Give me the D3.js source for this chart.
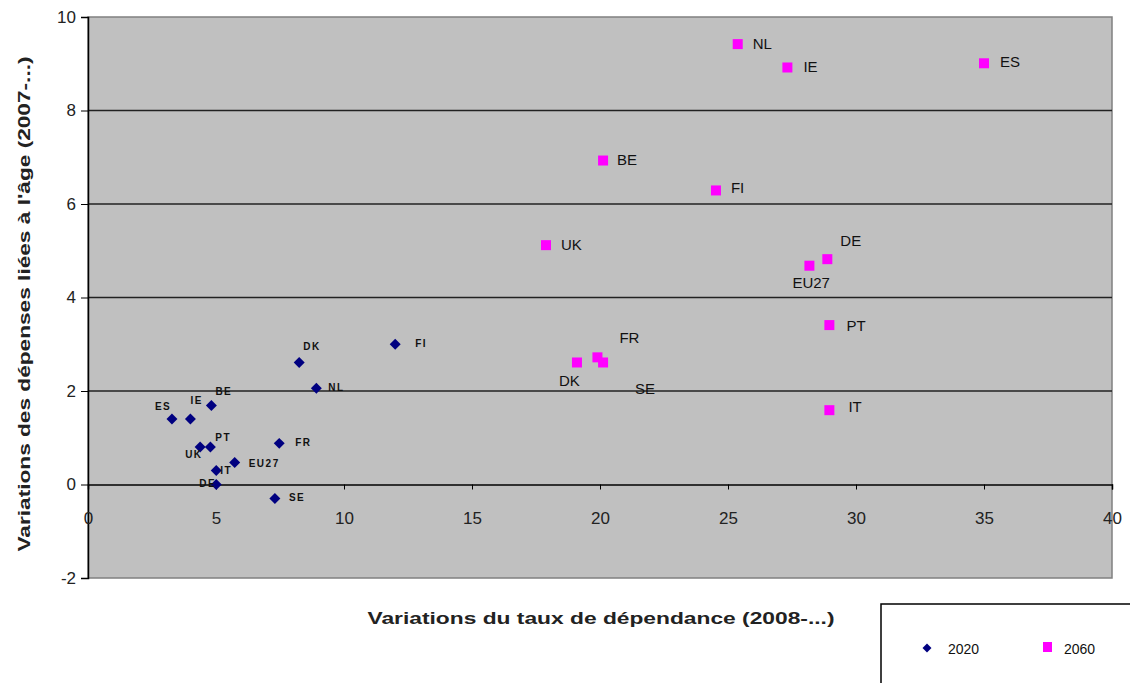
<!DOCTYPE html>
<html><head><meta charset="utf-8">
<script src="https://cdn.jsdelivr.net/npm/d3@7"></script>
<style>body{margin:0;background:#fff;} svg{display:block;font-family:"Liberation Sans",Arial,sans-serif;}</style>
</head><body><div id="chart"></div>
<script>
// Data
const countries2020 = ["ES","IE","BE","UK","PT","EU27","IT","DE","SE","FR","DK","NL","FI"];
const x2020 = [3.28, 4.0, 4.82, 4.38, 4.78, 5.73, 5.01, 5.01, 7.30, 7.47, 8.25, 8.92, 12.0];
const y2020 = [1.40, 1.40, 1.69, 0.80, 0.80, 0.47, 0.30, 0.0, -0.30, 0.88, 2.61, 2.06, 3.0];

const countries2060 = ["NL","IE","ES","BE","FI","UK","DE","EU27","PT","IT","DK","FR","SE"];
const x2060 = [25.38, 27.32, 35.0, 20.12, 24.53, 17.89, 28.88, 28.18, 28.96, 28.96, 19.10, 19.90, 20.12];
const y2060 = [9.42, 8.92, 9.01, 6.93, 6.29, 5.12, 4.82, 4.68, 3.41, 1.59, 2.61, 2.72, 2.61];

const xTicks = [0,5,10,15,20,25,30,35,40];
const yTicks = [-2,0,2,4,6,8,10];
const seriesNames = ["2020","2060"];
const xTitle = "Variations du taux de dépendance (2008-...)";
const yTitle = "Variations des dépenses liées à l'âge (2007-...)";

// Label offsets (style, px) for point labels
const off2020 = [[-17,-9],[0,-15],[4,-10],[-15,11],[5,-6],[14,4],[4,4],[-17,2],[14,2],[16,3],[4,-12],[12,3],[20,3]];
const off2060 = [[15,5],[16,5],[16,4],[14,4],[15,3],[15,5],[13,-13],[-17,22],[17,6],[19,2],[-18,24],[22,-14],[32,32]];

const W = 1130, H = 683;
const L = 88, R = 1112, T = 17, B = 578;
const svg = d3.select("#chart").append("svg").attr("width", W).attr("height", H);

const x = d3.scaleLinear().domain([0,40]).range([L, R]);
const y = d3.scaleLinear().domain([-2,10]).range([B, T]);

// plot background
svg.append("rect").attr("x", L).attr("y", T).attr("width", R - L).attr("height", B - T)
  .attr("fill", "#c0c0c0").attr("stroke", "#808080").attr("stroke-width", 1.5);

// gridlines
svg.append("g").selectAll("line").data(yTicks.filter(d => d > 0 && d < 10)).join("line")
  .attr("x1", L).attr("x2", R).attr("y1", d => y(d)).attr("y2", d => y(d))
  .attr("stroke", "#222").attr("stroke-width", 1.5);

// y axis
const yAxis = svg.append("g").attr("transform", `translate(${L},0)`)
  .call(d3.axisLeft(y).tickValues(yTicks).tickSize(7).tickPadding(5).tickFormat(d => String(d)));
yAxis.select(".domain").attr("stroke", "#000").attr("stroke-width", 1.5);
yAxis.selectAll("line").attr("stroke", "#000");
yAxis.selectAll("text").attr("font-size", 17).attr("fill", "#222").attr("font-family", "Liberation Sans, Arial");

// x axis at y=0
const xAxis = svg.append("g").attr("transform", `translate(0,${y(0)})`)
  .call(d3.axisBottom(x).tickValues(xTicks).tickSize(5).tickPadding(22).tickFormat(d => String(d)));
xAxis.select(".domain").attr("stroke", "#000").attr("stroke-width", 1.5);
xAxis.selectAll("line").attr("stroke", "#000");
xAxis.selectAll("text").attr("font-size", 17).attr("fill", "#222").attr("font-family", "Liberation Sans, Arial");

// titles
svg.append("text").attr("x", 601).attr("y", 624).attr("text-anchor", "middle")
  .attr("font-size", 17).attr("font-weight", "bold").attr("fill", "#222")
  .attr("textLength", 467).attr("lengthAdjust", "spacingAndGlyphs").text(xTitle);
svg.append("text").attr("transform", `translate(30,304) rotate(-90)`).attr("text-anchor", "middle")
  .attr("font-size", 17).attr("font-weight", "bold").attr("fill", "#222")
  .attr("textLength", 495).attr("lengthAdjust", "spacingAndGlyphs").text(yTitle);

const diamond = d3.symbol().type(d3.symbolSquare).size(60);

const d2020 = countries2020.map((c, i) => ({c, x: x2020[i], y: y2020[i], o: off2020[i]}));
const d2060 = countries2060.map((c, i) => ({c, x: x2060[i], y: y2060[i], o: off2060[i]}));

// 2020 series
svg.append("g").selectAll("path").data(d2020).join("path")
  .attr("d", diamond).attr("transform", d => `translate(${x(d.x)},${y(d.y)}) rotate(45)`)
  .attr("fill", "#000080");
svg.append("g").selectAll("text").data(d2020).join("text")
  .attr("x", d => x(d.x) + d.o[0]).attr("y", d => y(d.y) + d.o[1])
  .attr("font-size", 10).attr("font-weight", "bold").attr("letter-spacing", 1.5).attr("fill", "#111")
  .text(d => d.c);

// 2060 series
svg.append("g").selectAll("rect").data(d2060).join("rect")
  .attr("x", d => x(d.x) - 5).attr("y", d => y(d.y) - 5).attr("width", 10).attr("height", 10)
  .attr("fill", "#ff00ff");
svg.append("g").selectAll("text").data(d2060).join("text")
  .attr("x", d => x(d.x) + d.o[0]).attr("y", d => y(d.y) + d.o[1])
  .attr("font-size", 15).attr("fill", "#111")
  .text(d => d.c);

// legend
svg.append("rect").attr("x", 881).attr("y", 604).attr("width", 300).attr("height", 120)
  .attr("fill", "#fff").attr("stroke", "#000").attr("stroke-width", 1.5);
svg.append("path").attr("d", d3.symbol().type(d3.symbolSquare).size(40)).attr("transform", "translate(927,648) rotate(45)").attr("fill", "#000080");
svg.append("text").attr("x", 948).attr("y", 654).attr("font-size", 14).attr("fill", "#111").text(seriesNames[0]);
svg.append("rect").attr("x", 1043).attr("y", 642).attr("width", 9).attr("height", 10).attr("fill", "#ff00ff");
svg.append("text").attr("x", 1064).attr("y", 654).attr("font-size", 14).attr("fill", "#111").text(seriesNames[1]);
</script></body></html>
